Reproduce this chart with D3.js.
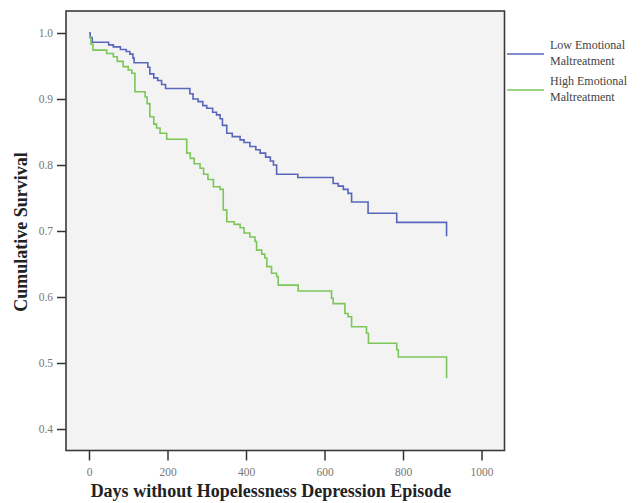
<!DOCTYPE html>
<html>
<head>
<meta charset="utf-8">
<script src="https://cdn.jsdelivr.net/npm/d3@7"></script>
<style>
  html, body { margin: 0; padding: 0; background: #ffffff; }
  svg { display: block; }
</style>
</head>
<body>
<svg id="chart" width="643" height="503"></svg>
<script>
// ---- data ----
const seriesNames = ["Low Emotional Maltreatment", "High Emotional Maltreatment"];
const legendLines = [["Low Emotional", "Maltreatment"], ["High Emotional", "Maltreatment"]];
const lowDays = [0, 3, 8, 50, 62, 80, 95, 104, 112, 115, 150, 155, 165, 175, 185, 195, 257, 265, 278, 290, 300, 315, 325, 334, 340, 351, 365, 385, 395, 410, 425, 436, 450, 462, 470, 478, 532, 622, 635, 648, 660, 669, 711, 784, 911];
const lowSurv = [1.0, 0.993, 0.986, 0.982, 0.979, 0.975, 0.972, 0.968, 0.962, 0.955, 0.948, 0.938, 0.932, 0.928, 0.922, 0.916, 0.908, 0.900, 0.896, 0.890, 0.886, 0.880, 0.876, 0.870, 0.860, 0.848, 0.843, 0.838, 0.834, 0.828, 0.823, 0.818, 0.812, 0.806, 0.800, 0.786, 0.781, 0.772, 0.768, 0.763, 0.757, 0.744, 0.727, 0.713, 0.692];
const highDays = [0, 5, 10, 45, 62, 72, 87, 100, 109, 117, 143, 148, 155, 165, 172, 181, 198, 249, 258, 268, 283, 292, 303, 317, 334, 342, 351, 370, 385, 395, 410, 423, 427, 440, 448, 453, 465, 478, 482, 533, 618, 622, 652, 660, 669, 707, 712, 784, 788, 911];
const highSurv = [0.994, 0.983, 0.974, 0.969, 0.964, 0.957, 0.949, 0.944, 0.939, 0.911, 0.903, 0.893, 0.873, 0.862, 0.856, 0.848, 0.839, 0.818, 0.810, 0.802, 0.795, 0.786, 0.778, 0.767, 0.763, 0.732, 0.714, 0.710, 0.705, 0.697, 0.691, 0.684, 0.671, 0.665, 0.659, 0.646, 0.636, 0.631, 0.618, 0.609, 0.598, 0.590, 0.575, 0.570, 0.555, 0.545, 0.530, 0.520, 0.509, 0.477];
const xTicks = [0, 200, 400, 600, 800, 1000];
const yTicks = [0.4, 0.5, 0.6, 0.7, 0.8, 0.9, 1.0];
const xTitle = "Days without Hopelessness Depression Episode";
const yTitle = "Cumulative Survival";
const colors = ["#5866bb", "#7cc65a"];

// ---- layout ----
const svg = d3.select("#chart");
const frame = { left: 66, right: 504.5, top: 11, bottom: 450.5 };
const x = d3.scaleLinear().domain([0, 1000]).range([89, 481.5]);
const y = d3.scaleLinear().domain([0.4, 1.0]).range([429, 33]);
const font = "'Liberation Serif', 'Times New Roman', serif";

svg.append("rect")
  .attr("x", frame.left).attr("y", frame.top)
  .attr("width", frame.right - frame.left).attr("height", frame.bottom - frame.top)
  .attr("fill", "#f3f3f3");

// axes
const xAxis = d3.axisBottom(x).tickValues(xTicks).tickSize(10).tickFormat(d3.format("d"));
const gx = svg.append("g").attr("transform", `translate(0,${frame.bottom})`).call(xAxis);
gx.select(".domain").remove();
gx.selectAll(".tick line").attr("stroke", "#333").attr("stroke-width", 1.5);
gx.selectAll(".tick text").attr("fill", "#777").attr("font-family", font).attr("font-size", 11.5).attr("dy", "1.1em");

const yAxis = d3.axisLeft(y).tickValues(yTicks).tickSize(9).tickFormat(d3.format(".1f"));
const gy = svg.append("g").attr("transform", `translate(${frame.left},0)`).call(yAxis);
gy.select(".domain").remove();
gy.selectAll(".tick line").attr("stroke", "#333").attr("stroke-width", 1.5);
gy.selectAll(".tick text").attr("fill", "#777").attr("font-family", font).attr("font-size", 11.5).attr("x", -13);

// curves
const series = [
  lowDays.map((d, i) => [d, lowSurv[i]]),
  highDays.map((d, i) => [d, highSurv[i]])
];
const line = d3.line().x(d => x(d[0])).y(d => y(d[1])).curve(d3.curveStepAfter);
svg.append("g").selectAll("path").data(series).join("path")
  .attr("d", line)
  .attr("fill", "none")
  .attr("stroke", (d, i) => colors[i])
  .attr("stroke-width", 1.6);

// frame
svg.append("rect")
  .attr("x", frame.left).attr("y", frame.top)
  .attr("width", frame.right - frame.left).attr("height", frame.bottom - frame.top)
  .attr("fill", "none").attr("stroke", "#3a3a3a").attr("stroke-width", 1.6);

// titles
svg.append("text")
  .attr("x", 271).attr("y", 497)
  .attr("text-anchor", "middle")
  .attr("font-family", font).attr("font-weight", "bold").attr("font-size", 18)
  .attr("fill", "#222")
  .text(xTitle);
svg.append("text")
  .attr("transform", "translate(27,232) rotate(-90)")
  .attr("text-anchor", "middle")
  .attr("font-family", font).attr("font-weight", "bold").attr("font-size", 18)
  .attr("fill", "#222")
  .text(yTitle);

// legend
const legend = svg.append("g").selectAll("g").data(seriesNames).join("g")
  .attr("transform", (d, i) => `translate(0,${54 + i * 36})`);
legend.append("line")
  .attr("x1", 507).attr("x2", 544).attr("y1", 0).attr("y2", 0)
  .attr("stroke", (d, i) => colors[i]).attr("stroke-width", 1.6);
legend.each(function (d, i) {
  const t = d3.select(this).append("text")
    .attr("font-family", font).attr("font-size", 12).attr("fill", "#444");
  t.selectAll("tspan").data(legendLines[i]).join("tspan")
    .attr("x", 550).attr("y", (s, j) => -5 + j * 16)
    .text(s => s);
});
</script>
</body>
</html>
